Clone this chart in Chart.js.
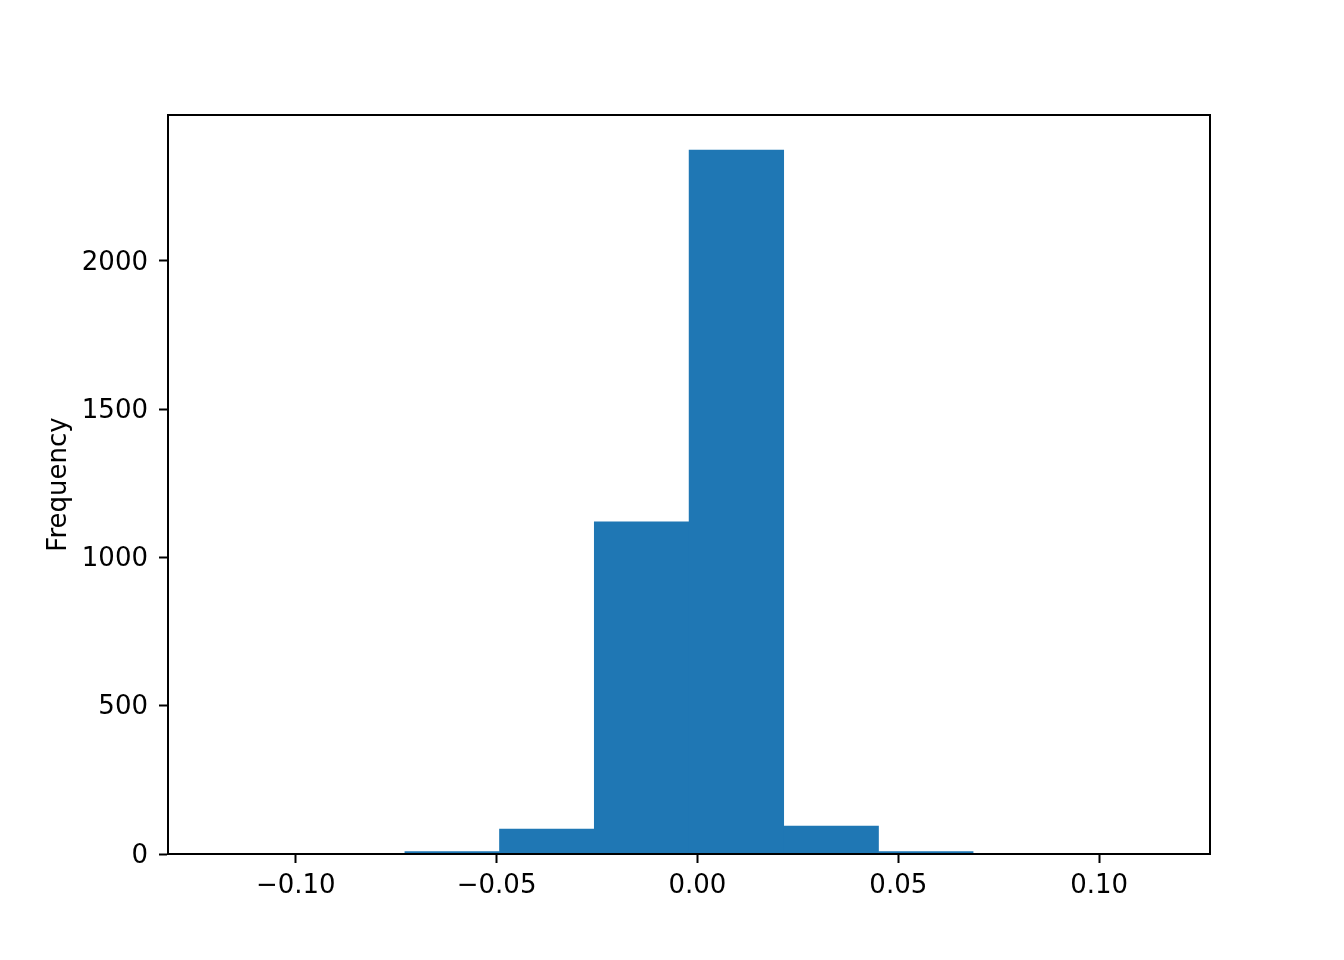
<!DOCTYPE html>
<html>
<head>
<meta charset="utf-8">
<style>
    body { margin: 0; background: #ffffff; }
    #histChart { display: block; }
</style>
<script src="https://cdn.jsdelivr.net/npm/chart.js@4.4.1/dist/chart.umd.min.js"></script>
</head>
<body>
<canvas id="histChart" width="1344" height="960"></canvas>
<script>
// bin edges (10 bins) and counts
const binEdges = [-0.1200, -0.0964, -0.0728, -0.0493, -0.0257, -0.0021, 0.0215, 0.0451, 0.0686, 0.0922, 0.1158];
const binCounts = [1, 0, 8, 84, 1120, 2374, 94, 8, 0, 1];
const xTicks = [-0.10, -0.05, 0.00, 0.05, 0.10];
const yTicks = [0, 500, 1000, 1500, 2000];
const xRange = [-0.1318, 0.1276];
const yRange = [0, 2492];

const FONT = { family: 'DejaVu Sans', size: 26 };

// frame round the axes area (top and right spines)
const framePlugin = {
    id: 'frame',
    afterDraw(chart) {
        const a = chart.chartArea;
        const ctx = chart.ctx;
        ctx.save();
        ctx.strokeStyle = '#000000';
        ctx.lineWidth = 2;
        ctx.strokeRect(a.left, a.top, a.right - a.left, a.bottom - a.top);
        ctx.restore();
    }
};

document.addEventListener('DOMContentLoaded', function () {
    const ctx = document.getElementById('histChart').getContext('2d');
    const points = binCounts.map((c, i) => ({ x: (binEdges[i] + binEdges[i + 1]) / 2, y: c }));

    new Chart(ctx, {
        type: 'bar',
        data: {
            datasets: [{
                data: points,
                backgroundColor: '#1f77b4',
                borderWidth: 0,
                barPercentage: 1,
                categoryPercentage: 1
            }]
        },
        options: {
            responsive: false,
            animation: false,
            devicePixelRatio: 1,
            layout: { padding: { top: 115, right: 134, left: 0, bottom: 0 } },
            plugins: { legend: { display: false }, tooltip: { enabled: false } },
            scales: {
                x: {
                    type: 'linear',
                    offset: false,
                    min: xRange[0],
                    max: xRange[1],
                    afterBuildTicks: (scale) => { scale.ticks = xTicks.map(v => ({ value: v })); },
                    afterFit: (scale) => { scale.height = 106; },
                    grid: { offset: false, drawOnChartArea: false, drawTicks: true, tickLength: 9, tickWidth: 2, tickColor: '#000000' },
                    border: { display: true, color: '#000000', width: 2 },
                    ticks: {
                        color: '#000000',
                        font: FONT,
                        padding: 8,
                        maxRotation: 0,
                        autoSkip: false,
                        callback: (v) => (v < 0 ? '\u2212' + Math.abs(v).toFixed(2) : v.toFixed(2))
                    }
                },
                y: {
                    min: yRange[0],
                    max: yRange[1],
                    afterBuildTicks: (scale) => { scale.ticks = yTicks.map(v => ({ value: v })); },
                    afterFit: (scale) => { scale.width = 168; },
                    grid: { drawOnChartArea: false, drawTicks: true, tickLength: 9, tickWidth: 2, tickColor: '#000000' },
                    border: { display: true, color: '#000000', width: 2 },
                    ticks: {
                        color: '#000000',
                        font: FONT,
                        padding: 11,
                        labelOffset: 2,
                        autoSkip: false,
                        callback: (v) => String(v)
                    },
                    title: {
                        display: true,
                        text: 'Frequency',
                        color: '#000000',
                        font: FONT,
                        padding: { top: 44, bottom: 0 }
                    }
                }
            }
        },
        plugins: [framePlugin]
    });
});
</script>
</body>
</html>
